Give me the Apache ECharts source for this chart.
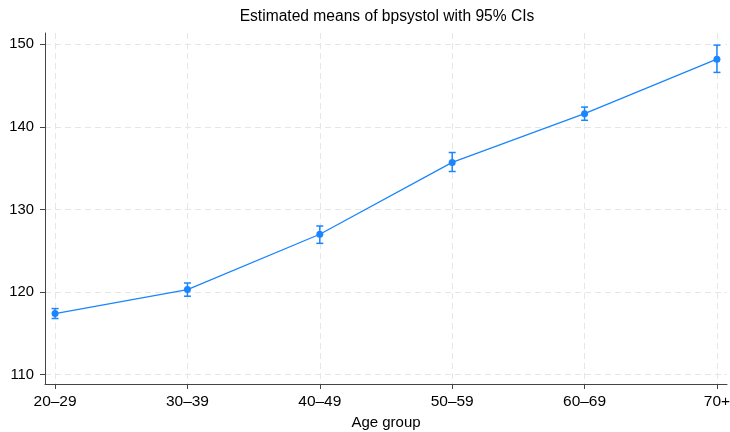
<!DOCTYPE html>
<html>
<head>
<meta charset="utf-8">
<script src="https://cdn.jsdelivr.net/npm/echarts@6/dist/echarts.min.js"></script>
<style>html,body{margin:0;padding:0;background:#fff}#c{width:730px;height:432px}</style>
</head>
<body>
<div id="c"></div>
<script>
var categories = ['20\u201329', '30\u201339', '40\u201349', '50\u201359', '60\u201369', '70+'];
var means = [117.4, 120.3, 127.0, 135.7, 141.6, 148.2];
var ciLow = [116.8, 119.5, 125.9, 134.6, 140.8, 146.6];
var ciHigh = [118.0, 121.1, 128.0, 136.9, 142.4, 149.9];
var yTicks = [110, 120, 130, 140, 150];
var xTicks = [1, 2, 3, 4, 5, 6];

var color = '#1a85ff';
var font = 'Liberation Sans, Arial, sans-serif';

var lineData = means.map(function (v, i) { return [i + 1, v]; });
var ciData = means.map(function (v, i) { return [i + 1, ciLow[i], ciHigh[i]]; });

var chart = echarts.init(document.getElementById('c'), null, { renderer: 'canvas' });
chart.setOption({
  animation: false,
  backgroundColor: '#fff',
  title: {
    text: 'Estimated means of bpsystol with 95% CIs',
    left: 382, top: 4, textAlign: 'center',
    textStyle: { fontFamily: font, fontSize: 15.6, fontWeight: 'normal', color: '#000' }
  },
  grid: { left: 45, right: 3, top: 33, bottom: 48, containLabel: false, outerBoundsMode: 'none' },
  xAxis: {
    type: 'value', min: 0.924, max: 6.076,
    name: 'Age group', nameLocation: 'middle', nameGap: 29,
    nameTextStyle: { fontFamily: font, fontSize: 15, color: '#000' },
    axisLine: { show: true, lineStyle: { color: '#444', width: 1 } },
    axisTick: { show: true, length: 5, lineStyle: { color: '#444' }, customValues: xTicks },
    axisLabel: {
      fontFamily: font, fontSize: 15.5, color: '#000', margin: 10, customValues: xTicks,
      formatter: function (v) { return categories[Math.round(v) - 1] || ''; }
    },
    splitLine: { show: true, lineStyle: { color: '#e6e6e6', type: [6, 4], width: 1 }, customValues: xTicks },
  },
  yAxis: {
    type: 'value', min: 108.87, max: 151.37,
    axisLine: { show: true, lineStyle: { color: '#444', width: 1 } },
    axisTick: { show: true, length: 5, lineStyle: { color: '#444' }, customValues: yTicks },
    axisLabel: { fontFamily: font, fontSize: 14.8, color: '#000', margin: 11, customValues: yTicks },
    splitLine: { show: true, lineStyle: { color: '#e6e6e6', type: [6, 4], width: 1 } },
  },
  series: [
    {
      type: 'custom',
      data: ciData,
      z: 3,
      renderItem: function (params, api) {
        var x = api.value(0);
        var lo = api.coord([x, api.value(1)]);
        var hi = api.coord([x, api.value(2)]);
        var w = 3.5;
        return {
          type: 'group',
          children: [
            { type: 'line', shape: { x1: lo[0], y1: lo[1], x2: hi[0], y2: hi[1] }, style: { stroke: color, lineWidth: 1.5 } },
            { type: 'line', shape: { x1: lo[0] - w, y1: lo[1], x2: lo[0] + w, y2: lo[1] }, style: { stroke: color, lineWidth: 1.5 } },
            { type: 'line', shape: { x1: hi[0] - w, y1: hi[1], x2: hi[0] + w, y2: hi[1] }, style: { stroke: color, lineWidth: 1.5 } }
          ]
        };
      }
    },
    {
      type: 'line',
      data: lineData,
      z: 4,
      symbol: 'circle',
      symbolSize: 7,
      lineStyle: { color: color, width: 1.3 },
      itemStyle: { color: color }
    }
  ]
});
</script>
</body>
</html>
